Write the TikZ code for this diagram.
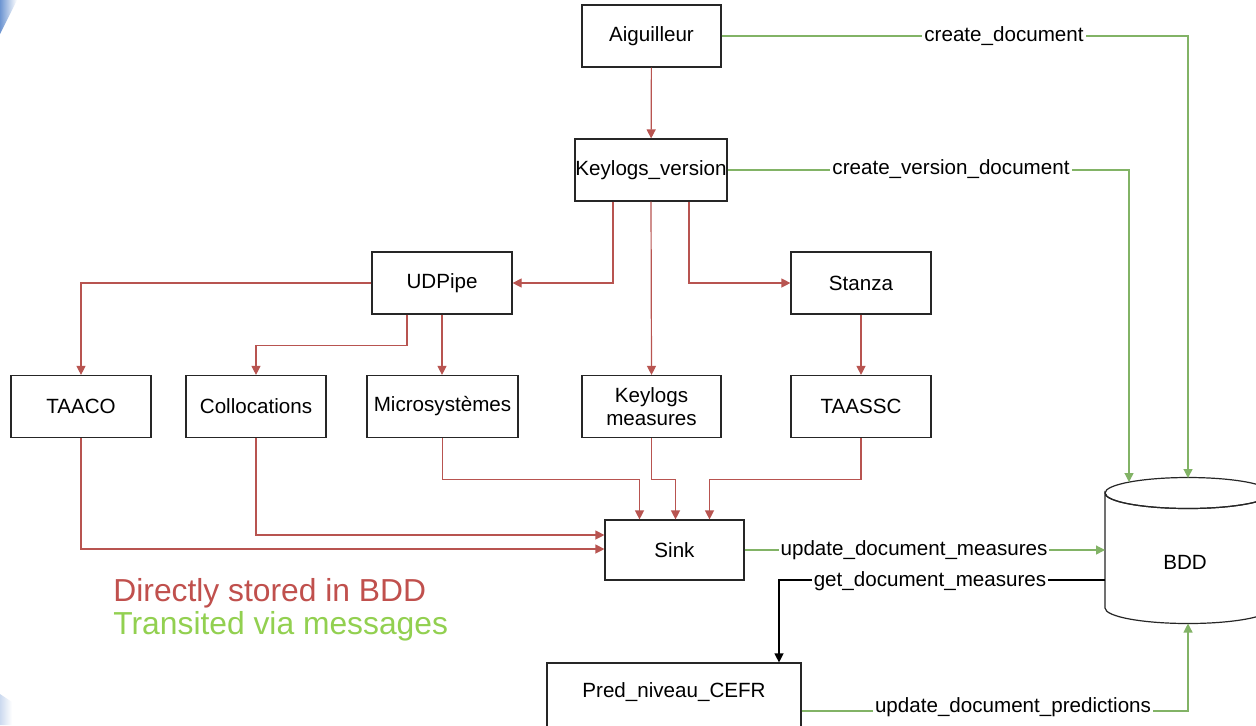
\documentclass[tikz,border=0pt]{standalone}
\usepackage{fontspec}
\setmainfont{Liberation Sans}
\usetikzlibrary{arrows.meta,calc}
\definecolor{redl}{HTML}{B85450}
\definecolor{greenl}{HTML}{82B366}
\definecolor{legred}{HTML}{C0504D}
\definecolor{leggreen}{HTML}{92D050}
\definecolor{decoblue}{RGB}{110,150,210}
\begin{document}
\begin{tikzpicture}[x=0.5pt,y=-0.5pt,
  box/.style={draw=black!85, line width=0.6pt, minimum width=70pt, minimum height=31pt,
    inner sep=0pt, font=\fontsize{10.3}{11.5}\selectfont, align=center, fill=white},
  redarr/.style={draw=redl, line width=0.6pt, -{Triangle[length=4.5pt,width=4.5pt]}},
  greenarr/.style={draw=greenl, line width=0.6pt, -{Triangle[length=4.5pt,width=4.5pt]}},
  blackarr/.style={draw=black, line width=0.6pt, -{Triangle[length=4.5pt,width=4.5pt]}},
  lbl/.style={fill=white, inner sep=1pt, font=\fontsize{10.3}{11.5}\selectfont},
  legend/.style={anchor=base west, inner sep=0pt, font=\fontsize{15.9}{18}\selectfont}
]
\clip (0,0) rectangle (1256,725);
\fill[white] (0,0) rectangle (1256,725);

% corner decorations
\shade[left color=decoblue, right color=white] (0,0) -- (17,0) -- (0,34) -- cycle;
\shade[left color=decoblue!35, right color=white] (0,694) -- (12,702) -- (12,725) -- (0,725) -- cycle;

% nodes
\node[box, minimum width=69.5pt] (aig) at (651.5,36) {Aiguilleur};
\node[box, minimum width=76pt] (kv) at (651,170) {Keylogs\_version};
\node[box] (udp) at (442,283) {UDPipe};
\node[box] (stanza) at (861,283) {Stanza};
\node[box] (taaco) at (81,406.5) {TAACO};
\node[box] (coll) at (256,406.5) {Collocations};
\node[box, minimum width=75.5pt] (micro) at (442.5,406.5) {Microsyst\`emes};
\node[box, minimum width=69.5pt] (km) at (651.5,406.5) {Keylogs\\measures};
\node[box] (taassc) at (861,406.5) {TAASSC};
\node[box, minimum width=69.5pt, minimum height=30pt] (sink) at (674.5,550) {Sink};
\node[box, minimum width=127pt, minimum height=34pt] (pred) at (674,697) {};
\node[font=\fontsize{10.3}{11.5}\selectfont, inner sep=0pt] (predt) at (674,692) {Pred\_niveau\_CEFR};

% BDD cylinder
\node[minimum width=83pt, minimum height=72.5pt, inner sep=0pt] (bdd) at (1188,550.5) {};
\filldraw[fill=white, draw=black!85, line width=0.6pt]
  (1105,493) -- (1105,608) arc[start angle=180, end angle=0, x radius=83, y radius=15.5]
  -- (1271,493) arc[start angle=0, end angle=180, x radius=83, y radius=15.5] -- cycle;
\draw[black!85, line width=0.6pt] (1188,493) ellipse[x radius=83, y radius=15.5];
\node[font=\fontsize{10.3}{11.5}\selectfont, inner sep=0pt] at (1185,562) {BDD};
\coordinate (bddtopc) at (1188,478);
\coordinate (bddtopl) at (1129,482);
\coordinate (bddbot) at (1188,623.5);
\coordinate (bddin) at (1105,550);
\coordinate (bddout) at (1105,580);

% red connectors
\draw[redarr] (aig) -- (kv);
\draw[redarr] ($(kv.south)+(-38,0)$) |- (udp.east);
\draw[redarr] (kv.south) -- (km.north);
\draw[redarr] ($(kv.south)+(38,0)$) |- (stanza.west);
\draw[redarr] (udp.west) -| (taaco.north);
\draw[redarr] ($(udp.south)+(-35,0)$) -- ++(0,31) -| (coll.north);
\draw[redarr] (udp.south) -- (udp.south |- micro.north);
\draw[redarr] (stanza) -- (taassc);
\draw[redarr] (taaco.south) |- ($(sink.west)+(0,-1)$);
\draw[redarr] (coll.south) |- ($(sink.west)+(0,-15)$);
\draw[redarr] (micro.south) -- ++(0,41) -| ($(sink.north)+(-35,0)$);
\draw[redarr] (km.south) -- ++(0,41) -| ($(sink.north)+(1,0)$);
\draw[redarr] (taassc.south) -- ++(0,41) -| ($(sink.north)+(35,0)$);

% green connectors
\draw[greenarr] (aig.east) -| (bddtopc);
\node[lbl] at (1004,36) {create\_document};
\draw[greenarr] (kv.east) -| (bddtopl);
\node[lbl] at (951,169) {create\_version\_document};
\draw[greenarr] (sink.east) -- (bddin);
\node[lbl] at (914,550) {update\_document\_measures};
\draw[greenarr] ($(pred.east)+(0,14)$) -| (bddbot);
\node[lbl] at (1013,707) {update\_document\_predictions};

% black connector
\draw[blackarr] (bddout) -| ($(pred.north)+(105,0)$);
\node[lbl] at (930,581) {get\_document\_measures};

% legend
\node[legend, text=legred] (leg1) at (113,601) {Directly stored in BDD};
\node[legend, text=leggreen] (leg2) at (113,634) {Transited via messages};
\end{tikzpicture}
\end{document}
